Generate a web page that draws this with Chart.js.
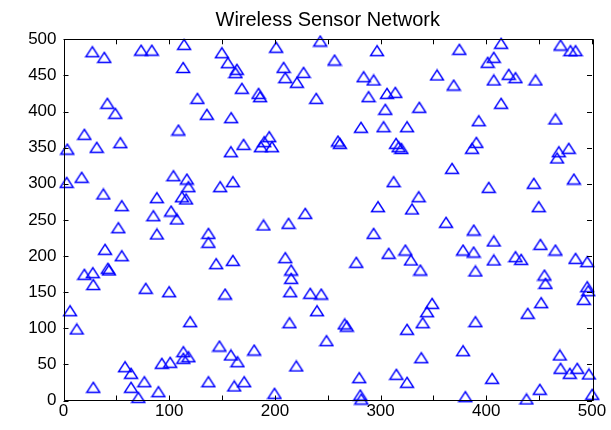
<!DOCTYPE html>
<html>
<head>
<meta charset="utf-8">
<script src="https://cdn.jsdelivr.net/npm/chart.js@4/dist/chart.umd.min.js"></script>
<style>
  html, body { margin: 0; padding: 0; background: #fff; }
  #wrap { width: 611px; height: 430px; }
</style>
</head>
<body>
<div id="wrap"><canvas id="c" width="611" height="430"></canvas></div>
<script>
// Sensor node positions (metres) in the 500 x 500 field
const sensorX = [
  27.3, 38.6, 73.4, 83.5, 114.1, 113.2, 41.5, 49, 108.7, 19.7,
  3.6, 31.4, 53.8, 149.8, 155.5, 164, 162.7, 168.7, 184.5, 186,
  126.7, 135.6, 158.6, 201.2, 242.9, 208.2, 209.8, 227.1, 220.8, 239.1,
  256.4, 170.3, 158.3, 194.6, 189.9, 197.2, 186.7, 296.6, 283.9, 293.4,
  353.4, 369.1, 374.5, 288.6, 306, 313.9, 304.4, 336.6, 281.4, 302.8,
  325, 259.6, 261.5, 314.6, 317, 319.6, 414, 407, 401.3, 470.2,
  479.6, 484.4, 421.2, 427.6, 407, 446.5, 414, 392.8, 465.4, 390.6,
  386.5, 468.6, 478, 467, 3, 17.2, 37.7, 55.1, 51.9, 39.3,
  55.1, 41.9, 43, 19.7, 27.7, 28.2, 77.8, 104, 116.7, 118.2,
  88.3, 112, 116, 85, 101.8, 107.2, 88.3, 148.2, 160.2, 189.2,
  212.9, 228.7, 137.1, 137.1, 144.4, 160.2, 209.8, 215.4, 215.4, 367.6,
  312.3, 336, 297.5, 329.7, 361.9, 293.4, 307.6, 323.4, 328.7, 337.6,
  277, 378, 388, 402.3, 444.9, 482.8, 449.6, 388.1, 407, 451.2,
  465.4, 407, 427.6, 433, 484.4, 495.5, 389.7, 455, 456, 495.5,
  496.4, 492.2, 99.9, 6.2, 12.5, 119.8, 58.2, 63.9, 93, 100.9,
  113.4, 113.4, 118.2, 28.2, 63.9, 76.5, 89.8, 70.8, 152.9, 214.5,
  233.4, 243.8, 239.8, 213.8, 248.8, 147.5, 158.3, 164.6, 180.4, 220.2,
  137.1, 161.5, 170.9, 199.6, 348.7, 343.9, 266, 268, 339.8, 325,
  338.5, 378, 279.8, 314.9, 325, 280.8, 281.7, 380.2, 451.9, 439.2,
  389.7, 469.5, 470.2, 479, 486, 497, 405.5, 450.6, 438, 500.2
];
const sensorY = [
  482.8, 475, 485, 485, 493, 461, 411.4, 397.6, 374.4, 368.5,
  348, 350.5, 356.9, 481.4, 467.6, 458.5, 453.8, 432.2, 425.2, 420.6,
  418.3, 396.2, 391.5, 489, 497.6, 461.2, 446.9, 454.3, 440.5, 418.3,
  471.3, 354.6, 344.4, 365.2, 358.3, 351.3, 351.3, 484.3, 448.2, 443.7,
  450.6, 436.7, 486.2, 420.6, 425.2, 426.6, 403.1, 405.9, 378.2, 379,
  379, 359.2, 356, 356, 351.3, 349, 494.5, 475.1, 468.2, 492.1,
  484.3, 484.3, 451.6, 446.9, 443.7, 443.7, 411.4, 387.3, 389.7, 357.4,
  349.1, 344.4, 349.1, 335.7, 302, 309, 285.9, 269.7, 239.2, 209.3,
  200.4, 183, 180.7, 174.7, 177, 160.5, 155.3, 311.2, 306.6, 296,
  280.8, 282, 279, 255.8, 262.3, 251.3, 230.5, 296, 302.9, 243,
  245.3, 259.1, 231.4, 219, 189.4, 194, 197.7, 180.6, 169.1, 321.4,
  302.9, 282.1, 268.3, 265.1, 246.7, 231.4, 203.8, 208.3, 194.5, 180.6,
  191.3, 208.3, 205.5, 295.1, 300.7, 306.6, 268.3, 236, 220.8, 216.2,
  208.3, 194.5, 199.1, 195.4, 196.8, 192.2, 179.3, 173.7, 162.2, 157.5,
  152, 140, 150.6, 124.3, 99, 109.1, 46.8, 37.7, 51.5, 52.9,
  67.6, 58.4, 60.6, 18.3, 18.3, 26, 12.2, 4.4, 147.4, 150.6,
  148.4, 147.4, 124.3, 107.7, 82.8, 75.4, 63, 53.7, 69.9, 47.8,
  26, 20.1, 26, 10, 134.5, 122.9, 106, 103, 107.7, 98.6,
  59.2, 68.9, 31.6, 36.3, 25.2, 7.6, 2, 5.3, 135.4, 120.7,
  109.1, 63, 44.6, 37.7, 44.6, 36.7, 30.7, 15.5, 2.1, 8.6
];
const tickValues = [0, 50, 100, 150, 200, 250, 300, 350, 400, 450, 500];
const chartTitle = 'Wireless Sensor Network';

const nodes = sensorX.map((x, i) => ({ x: x, y: sensorY[i] }));

// Open triangle marker, centred on its bounding box
function triangleMarker() {
  const cv = document.createElement('canvas');
  cv.width = 16; cv.height = 13;
  const g = cv.getContext('2d');
  g.strokeStyle = '#0000ff';
  g.lineWidth = 1.4;
  g.lineJoin = 'miter';
  g.beginPath();
  g.moveTo(8, 1.5);
  g.lineTo(14.5, 11.5);
  g.lineTo(1.5, 11.5);
  g.closePath();
  g.stroke();
  return cv;
}
const marker = triangleMarker();

// Box around the plot with inward tick marks on all four sides
const boxTicks = {
  id: 'boxTicks',
  afterDraw(chart) {
    const { ctx, chartArea: a, scales } = chart;
    const len = 5;
    ctx.save();
    ctx.strokeStyle = '#000';
    ctx.lineWidth = 1;
    ctx.beginPath();
    ctx.rect(Math.round(a.left) + 0.5, Math.round(a.top) + 0.5,
             Math.round(a.right - a.left), Math.round(a.bottom - a.top));
    for (const v of tickValues) {
      const px = Math.round(scales.x.getPixelForValue(v)) + 0.5;
      ctx.moveTo(px, a.bottom); ctx.lineTo(px, a.bottom - len);
      ctx.moveTo(px, a.top); ctx.lineTo(px, a.top + len);
      const py = Math.round(scales.y.getPixelForValue(v)) + 0.5;
      ctx.moveTo(a.left, py); ctx.lineTo(a.left + len, py);
      ctx.moveTo(a.right, py); ctx.lineTo(a.right - len, py);
    }
    ctx.stroke();
    ctx.restore();
  }
};

const tickFont = { family: 'Liberation Sans, Arial, sans-serif', size: 17 };

new Chart(document.getElementById('c'), {
  type: 'scatter',
  data: {
    datasets: [{
      data: nodes,
      pointStyle: marker,
      pointRadius: 7,
      pointHoverRadius: 7,
      clip: false
    }]
  },
  options: {
    responsive: false,
    animation: false,
    events: [],
    layout: { padding: { left: 0, right: 19, top: 0, bottom: 0 } },
    plugins: {
      legend: { display: false },
      tooltip: { enabled: false },
      title: {
        display: true,
        text: chartTitle,
        fullSize: false,
        color: '#000',
        font: { family: 'Liberation Sans, Arial, sans-serif', size: 20, weight: 'normal', lineHeight: 1.2 },
        padding: { top: 8, bottom: 7.3 }
      }
    },
    scales: {
      x: {
        type: 'linear',
        min: 0, max: 500,
        afterBuildTicks(s) { s.ticks = tickValues.map(v => ({ value: v })); },
        afterFit(s) { s.height = 29.5; },
        grid: { display: false, drawTicks: false, tickLength: 0 },
        border: { display: false },
        ticks: { color: '#000', font: tickFont, padding: 1, maxRotation: 0,
                 callback: v => v % 100 === 0 ? String(v) : '' }
      },
      y: {
        type: 'linear',
        min: 0, max: 500,
        afterBuildTicks(s) { s.ticks = tickValues.map(v => ({ value: v })); },
        afterFit(s) { s.width = 63.5; },
        grid: { display: false, drawTicks: false, tickLength: 0 },
        border: { display: false },
        ticks: { color: '#000', font: tickFont, padding: 7 }
      }
    }
  },
  plugins: [boxTicks]
});
</script>
</body>
</html>
